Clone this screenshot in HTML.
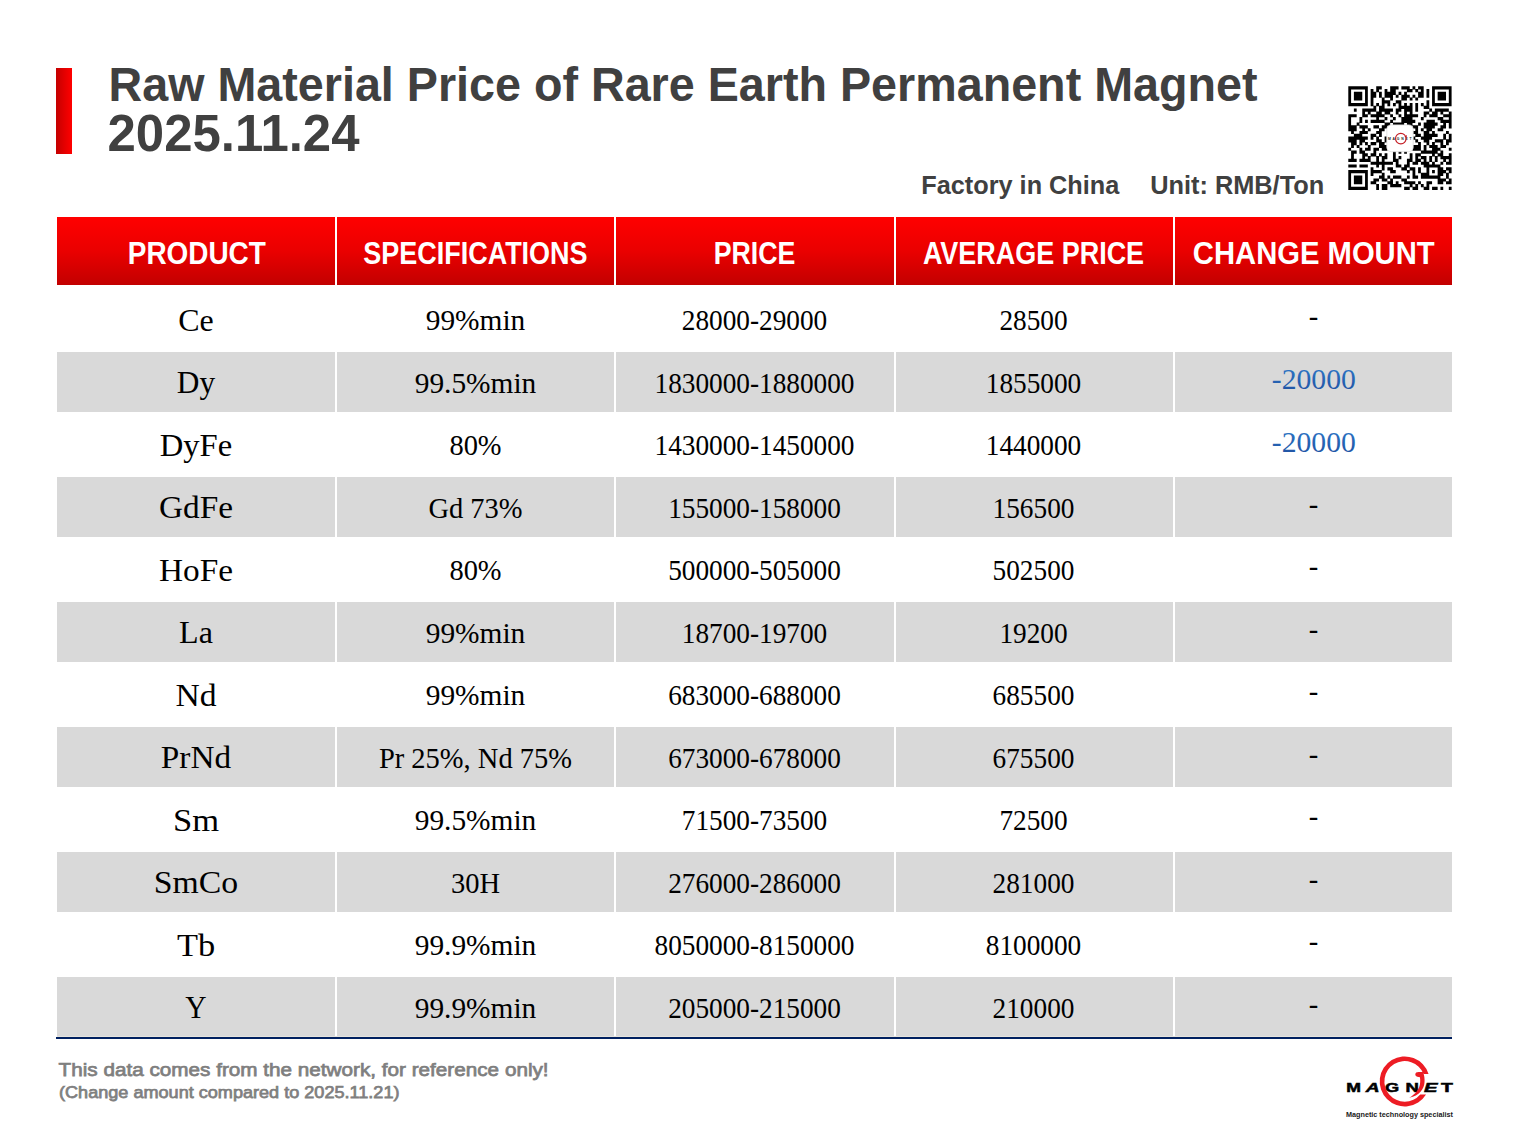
<!DOCTYPE html>
<html><head><meta charset="utf-8"><title>Raw Material Price of Rare Earth Permanent Magnet 2025.11.24</title>
<style>
html,body{margin:0;padding:0;background:#fff;}
body{width:1520px;height:1141px;overflow:hidden;position:relative;}
svg{position:absolute;left:0;top:0;display:block;}
.sans{font-family:"Liberation Sans",Arial,sans-serif;}
.serif{font-family:"Liberation Serif","Times New Roman",serif;}
</style></head><body>
<svg width="1520" height="1141" viewBox="0 0 1520 1141">
<defs>
<linearGradient id="hdr" x1="0" y1="0" x2="0" y2="1"><stop offset="0" stop-color="#FF0000"/><stop offset="0.5" stop-color="#EA0000"/><stop offset="1" stop-color="#C20000"/></linearGradient>
<linearGradient id="bar" x1="0" y1="0" x2="1" y2="0"><stop offset="0" stop-color="#C40000"/><stop offset="0.3" stop-color="#D60000"/><stop offset="1" stop-color="#FF0000"/></linearGradient>
<linearGradient id="blu" x1="0" y1="0" x2="0" y2="1"><stop offset="0" stop-color="#2F7BCB"/><stop offset="1" stop-color="#1F4F9F"/></linearGradient>
</defs>
<rect x="0" y="0" width="1520" height="1141" fill="#fff"/>
<rect x="56" y="68" width="16" height="86" fill="url(#bar)"/>
<text class="sans" x="108.5" y="101.4" font-size="49" font-weight="700" fill="#404040" textLength="1149" lengthAdjust="spacingAndGlyphs">Raw Material Price of Rare Earth Permanent Magnet</text>
<text class="sans" x="107.5" y="151.3" font-size="52" font-weight="700" fill="#404040" textLength="252" lengthAdjust="spacingAndGlyphs">2025.11.24</text>
<text class="sans" x="921.3" y="193.9" font-size="25" font-weight="700" fill="#404040" textLength="198" lengthAdjust="spacingAndGlyphs">Factory in China</text>
<text class="sans" x="1150.2" y="193.7" font-size="25" font-weight="700" fill="#404040" textLength="174" lengthAdjust="spacingAndGlyphs">Unit: RMB/Ton</text>

<rect x="57" y="217" width="278" height="68" fill="url(#hdr)"/>
<rect x="337" y="217" width="277" height="68" fill="url(#hdr)"/>
<rect x="616" y="217" width="278" height="68" fill="url(#hdr)"/>
<rect x="896" y="217" width="277" height="68" fill="url(#hdr)"/>
<rect x="1175" y="217" width="277" height="68" fill="url(#hdr)"/>
<text class="sans" x="196.8" y="263.5" font-size="31" font-weight="700" fill="#fff" text-anchor="middle" textLength="138.1" lengthAdjust="spacingAndGlyphs">PRODUCT</text>
<text class="sans" x="475.4" y="263.5" font-size="31" font-weight="700" fill="#fff" text-anchor="middle" textLength="224.3" lengthAdjust="spacingAndGlyphs">SPECIFICATIONS</text>
<text class="sans" x="754.5" y="263.5" font-size="31" font-weight="700" fill="#fff" text-anchor="middle" textLength="81.7" lengthAdjust="spacingAndGlyphs">PRICE</text>
<text class="sans" x="1033.5" y="263.5" font-size="31" font-weight="700" fill="#fff" text-anchor="middle" textLength="221.2" lengthAdjust="spacingAndGlyphs">AVERAGE PRICE</text>
<text class="sans" x="1313.75" y="263.5" font-size="31" font-weight="700" fill="#fff" text-anchor="middle" textLength="241.8" lengthAdjust="spacingAndGlyphs">CHANGE MOUNT</text>
<rect x="57" y="352" width="278" height="60" fill="#D9D9D9"/>
<rect x="337" y="352" width="277" height="60" fill="#D9D9D9"/>
<rect x="616" y="352" width="278" height="60" fill="#D9D9D9"/>
<rect x="896" y="352" width="277" height="60" fill="#D9D9D9"/>
<rect x="1175" y="352" width="277" height="60" fill="#D9D9D9"/>
<rect x="57" y="477" width="278" height="60" fill="#D9D9D9"/>
<rect x="337" y="477" width="277" height="60" fill="#D9D9D9"/>
<rect x="616" y="477" width="278" height="60" fill="#D9D9D9"/>
<rect x="896" y="477" width="277" height="60" fill="#D9D9D9"/>
<rect x="1175" y="477" width="277" height="60" fill="#D9D9D9"/>
<rect x="57" y="602" width="278" height="60" fill="#D9D9D9"/>
<rect x="337" y="602" width="277" height="60" fill="#D9D9D9"/>
<rect x="616" y="602" width="278" height="60" fill="#D9D9D9"/>
<rect x="896" y="602" width="277" height="60" fill="#D9D9D9"/>
<rect x="1175" y="602" width="277" height="60" fill="#D9D9D9"/>
<rect x="57" y="727" width="278" height="60" fill="#D9D9D9"/>
<rect x="337" y="727" width="277" height="60" fill="#D9D9D9"/>
<rect x="616" y="727" width="278" height="60" fill="#D9D9D9"/>
<rect x="896" y="727" width="277" height="60" fill="#D9D9D9"/>
<rect x="1175" y="727" width="277" height="60" fill="#D9D9D9"/>
<rect x="57" y="852" width="278" height="60" fill="#D9D9D9"/>
<rect x="337" y="852" width="277" height="60" fill="#D9D9D9"/>
<rect x="616" y="852" width="278" height="60" fill="#D9D9D9"/>
<rect x="896" y="852" width="277" height="60" fill="#D9D9D9"/>
<rect x="1175" y="852" width="277" height="60" fill="#D9D9D9"/>
<rect x="57" y="977" width="278" height="59" fill="#D9D9D9"/>
<rect x="337" y="977" width="277" height="59" fill="#D9D9D9"/>
<rect x="616" y="977" width="278" height="59" fill="#D9D9D9"/>
<rect x="896" y="977" width="277" height="59" fill="#D9D9D9"/>
<rect x="1175" y="977" width="277" height="59" fill="#D9D9D9"/>
<text class="serif" x="196" y="330.9" font-size="32" fill="#000" text-anchor="middle" textLength="35.5" lengthAdjust="spacingAndGlyphs">Ce</text>
<text class="serif" x="475.5" y="330.2" font-size="28.5" fill="#000" text-anchor="middle" textLength="99.5" lengthAdjust="spacingAndGlyphs">99%min</text>
<text class="serif" x="754.5" y="330.2" font-size="28.5" fill="#000" text-anchor="middle" textLength="145.5" lengthAdjust="spacingAndGlyphs">28000-29000</text>
<text class="serif" x="1033.5" y="330.2" font-size="28.5" fill="#000" text-anchor="middle" textLength="68.2" lengthAdjust="spacingAndGlyphs">28500</text>
<text class="serif" x="1313.5" y="326.3" font-size="28.5" fill="#000" text-anchor="middle">-</text>
<text class="serif" x="196" y="393.4" font-size="32" fill="#000" text-anchor="middle" textLength="38.3" lengthAdjust="spacingAndGlyphs">Dy</text>
<text class="serif" x="475.5" y="392.7" font-size="28.5" fill="#000" text-anchor="middle" textLength="121.5" lengthAdjust="spacingAndGlyphs">99.5%min</text>
<text class="serif" x="754.5" y="392.7" font-size="28.5" fill="#000" text-anchor="middle" textLength="200.0" lengthAdjust="spacingAndGlyphs">1830000-1880000</text>
<text class="serif" x="1033.5" y="392.7" font-size="28.5" fill="#000" text-anchor="middle" textLength="95.5" lengthAdjust="spacingAndGlyphs">1855000</text>
<text class="serif" x="1313.8" y="389.1" font-size="29" fill="url(#blu)" text-anchor="middle" textLength="84" lengthAdjust="spacingAndGlyphs">-20000</text>
<text class="serif" x="196" y="455.9" font-size="32" fill="#000" text-anchor="middle" textLength="72.5" lengthAdjust="spacingAndGlyphs">DyFe</text>
<text class="serif" x="475.5" y="455.2" font-size="28.5" fill="#000" text-anchor="middle" textLength="52.2" lengthAdjust="spacingAndGlyphs">80%</text>
<text class="serif" x="754.5" y="455.2" font-size="28.5" fill="#000" text-anchor="middle" textLength="200.0" lengthAdjust="spacingAndGlyphs">1430000-1450000</text>
<text class="serif" x="1033.5" y="455.2" font-size="28.5" fill="#000" text-anchor="middle" textLength="95.5" lengthAdjust="spacingAndGlyphs">1440000</text>
<text class="serif" x="1313.8" y="451.6" font-size="29" fill="url(#blu)" text-anchor="middle" textLength="84" lengthAdjust="spacingAndGlyphs">-20000</text>
<text class="serif" x="196" y="518.4" font-size="32" fill="#000" text-anchor="middle" textLength="74.0" lengthAdjust="spacingAndGlyphs">GdFe</text>
<text class="serif" x="475.5" y="517.7" font-size="28.5" fill="#000" text-anchor="middle" textLength="94.2" lengthAdjust="spacingAndGlyphs">Gd 73%</text>
<text class="serif" x="754.5" y="517.7" font-size="28.5" fill="#000" text-anchor="middle" textLength="172.7" lengthAdjust="spacingAndGlyphs">155000-158000</text>
<text class="serif" x="1033.5" y="517.7" font-size="28.5" fill="#000" text-anchor="middle" textLength="81.8" lengthAdjust="spacingAndGlyphs">156500</text>
<text class="serif" x="1313.5" y="513.8" font-size="28.5" fill="#000" text-anchor="middle">-</text>
<text class="serif" x="196" y="580.9" font-size="32" fill="#000" text-anchor="middle" textLength="74.0" lengthAdjust="spacingAndGlyphs">HoFe</text>
<text class="serif" x="475.5" y="580.2" font-size="28.5" fill="#000" text-anchor="middle" textLength="52.2" lengthAdjust="spacingAndGlyphs">80%</text>
<text class="serif" x="754.5" y="580.2" font-size="28.5" fill="#000" text-anchor="middle" textLength="172.7" lengthAdjust="spacingAndGlyphs">500000-505000</text>
<text class="serif" x="1033.5" y="580.2" font-size="28.5" fill="#000" text-anchor="middle" textLength="81.8" lengthAdjust="spacingAndGlyphs">502500</text>
<text class="serif" x="1313.5" y="576.3" font-size="28.5" fill="#000" text-anchor="middle">-</text>
<text class="serif" x="196" y="643.4" font-size="32" fill="#000" text-anchor="middle" textLength="33.8" lengthAdjust="spacingAndGlyphs">La</text>
<text class="serif" x="475.5" y="642.7" font-size="28.5" fill="#000" text-anchor="middle" textLength="99.5" lengthAdjust="spacingAndGlyphs">99%min</text>
<text class="serif" x="754.5" y="642.7" font-size="28.5" fill="#000" text-anchor="middle" textLength="145.5" lengthAdjust="spacingAndGlyphs">18700-19700</text>
<text class="serif" x="1033.5" y="642.7" font-size="28.5" fill="#000" text-anchor="middle" textLength="68.2" lengthAdjust="spacingAndGlyphs">19200</text>
<text class="serif" x="1313.5" y="638.8" font-size="28.5" fill="#000" text-anchor="middle">-</text>
<text class="serif" x="196" y="705.9" font-size="32" fill="#000" text-anchor="middle" textLength="41.1" lengthAdjust="spacingAndGlyphs">Nd</text>
<text class="serif" x="475.5" y="705.2" font-size="28.5" fill="#000" text-anchor="middle" textLength="99.5" lengthAdjust="spacingAndGlyphs">99%min</text>
<text class="serif" x="754.5" y="705.2" font-size="28.5" fill="#000" text-anchor="middle" textLength="172.7" lengthAdjust="spacingAndGlyphs">683000-688000</text>
<text class="serif" x="1033.5" y="705.2" font-size="28.5" fill="#000" text-anchor="middle" textLength="81.8" lengthAdjust="spacingAndGlyphs">685500</text>
<text class="serif" x="1313.5" y="701.3" font-size="28.5" fill="#000" text-anchor="middle">-</text>
<text class="serif" x="196" y="768.4" font-size="32" fill="#000" text-anchor="middle" textLength="70.3" lengthAdjust="spacingAndGlyphs">PrNd</text>
<text class="serif" x="475.5" y="767.7" font-size="28.5" fill="#000" text-anchor="middle" textLength="193.2" lengthAdjust="spacingAndGlyphs">Pr 25%, Nd 75%</text>
<text class="serif" x="754.5" y="767.7" font-size="28.5" fill="#000" text-anchor="middle" textLength="172.7" lengthAdjust="spacingAndGlyphs">673000-678000</text>
<text class="serif" x="1033.5" y="767.7" font-size="28.5" fill="#000" text-anchor="middle" textLength="81.8" lengthAdjust="spacingAndGlyphs">675500</text>
<text class="serif" x="1313.5" y="763.8" font-size="28.5" fill="#000" text-anchor="middle">-</text>
<text class="serif" x="196" y="830.9" font-size="32" fill="#000" text-anchor="middle" textLength="46.1" lengthAdjust="spacingAndGlyphs">Sm</text>
<text class="serif" x="475.5" y="830.2" font-size="28.5" fill="#000" text-anchor="middle" textLength="121.5" lengthAdjust="spacingAndGlyphs">99.5%min</text>
<text class="serif" x="754.5" y="830.2" font-size="28.5" fill="#000" text-anchor="middle" textLength="145.5" lengthAdjust="spacingAndGlyphs">71500-73500</text>
<text class="serif" x="1033.5" y="830.2" font-size="28.5" fill="#000" text-anchor="middle" textLength="68.2" lengthAdjust="spacingAndGlyphs">72500</text>
<text class="serif" x="1313.5" y="826.3" font-size="28.5" fill="#000" text-anchor="middle">-</text>
<text class="serif" x="196" y="893.4" font-size="32" fill="#000" text-anchor="middle" textLength="84.4" lengthAdjust="spacingAndGlyphs">SmCo</text>
<text class="serif" x="475.5" y="892.7" font-size="28.5" fill="#000" text-anchor="middle" textLength="49.1" lengthAdjust="spacingAndGlyphs">30H</text>
<text class="serif" x="754.5" y="892.7" font-size="28.5" fill="#000" text-anchor="middle" textLength="172.7" lengthAdjust="spacingAndGlyphs">276000-286000</text>
<text class="serif" x="1033.5" y="892.7" font-size="28.5" fill="#000" text-anchor="middle" textLength="81.8" lengthAdjust="spacingAndGlyphs">281000</text>
<text class="serif" x="1313.5" y="888.8" font-size="28.5" fill="#000" text-anchor="middle">-</text>
<text class="serif" x="196" y="955.9" font-size="32" fill="#000" text-anchor="middle" textLength="38.2" lengthAdjust="spacingAndGlyphs">Tb</text>
<text class="serif" x="475.5" y="955.2" font-size="28.5" fill="#000" text-anchor="middle" textLength="121.5" lengthAdjust="spacingAndGlyphs">99.9%min</text>
<text class="serif" x="754.5" y="955.2" font-size="28.5" fill="#000" text-anchor="middle" textLength="200.0" lengthAdjust="spacingAndGlyphs">8050000-8150000</text>
<text class="serif" x="1033.5" y="955.2" font-size="28.5" fill="#000" text-anchor="middle" textLength="95.5" lengthAdjust="spacingAndGlyphs">8100000</text>
<text class="serif" x="1313.5" y="951.3" font-size="28.5" fill="#000" text-anchor="middle">-</text>
<text class="serif" x="196" y="1018.4" font-size="32" fill="#000" text-anchor="middle" textLength="21.3" lengthAdjust="spacingAndGlyphs">Y</text>
<text class="serif" x="475.5" y="1017.7" font-size="28.5" fill="#000" text-anchor="middle" textLength="121.5" lengthAdjust="spacingAndGlyphs">99.9%min</text>
<text class="serif" x="754.5" y="1017.7" font-size="28.5" fill="#000" text-anchor="middle" textLength="172.7" lengthAdjust="spacingAndGlyphs">205000-215000</text>
<text class="serif" x="1033.5" y="1017.7" font-size="28.5" fill="#000" text-anchor="middle" textLength="81.8" lengthAdjust="spacingAndGlyphs">210000</text>
<text class="serif" x="1313.5" y="1013.8" font-size="28.5" fill="#000" text-anchor="middle">-</text>
<rect x="57" y="1036" width="1395" height="1" fill="#E6E4DE"/>
<rect x="56" y="1037" width="1396" height="2" fill="#002060"/>
<text class="sans" x="58.6" y="1076" font-size="19" font-weight="400" fill="#7F7F7F" stroke="#7F7F7F" stroke-width="0.75" textLength="490" lengthAdjust="spacingAndGlyphs">This data comes from the network, for reference only!</text>
<text class="sans" x="59" y="1098.3" font-size="17" font-weight="400" fill="#7F7F7F" stroke="#7F7F7F" stroke-width="0.75" textLength="340.5" lengthAdjust="spacingAndGlyphs">(Change amount compared to 2025.11.21)</text>
<g id="logo">
<text class="sans" x="1346.2" y="1091.8" font-size="12.7" font-weight="700" fill="#000" stroke="#000" stroke-width="0.5" textLength="14.7" lengthAdjust="spacingAndGlyphs">M</text>
<text class="sans" x="1365.7" y="1091.8" font-size="12.7" font-weight="700" fill="#000" stroke="#000" stroke-width="0.5" textLength="13.8" lengthAdjust="spacingAndGlyphs" font-style="italic">A</text>
<text class="sans" x="1385.0" y="1091.8" font-size="12.7" font-weight="700" fill="#000" stroke="#000" stroke-width="0.5" textLength="14.2" lengthAdjust="spacingAndGlyphs">G</text>
<text class="sans" x="1405.5" y="1091.8" font-size="12.7" font-weight="700" fill="#000" stroke="#000" stroke-width="0.5" textLength="13.4" lengthAdjust="spacingAndGlyphs">N</text>
<text class="sans" x="1424.0" y="1091.8" font-size="12.7" font-weight="700" fill="#000" stroke="#000" stroke-width="0.5" textLength="13.5" lengthAdjust="spacingAndGlyphs" font-style="italic">E</text>
<text class="sans" x="1441.0" y="1091.8" font-size="12.7" font-weight="700" fill="#000" stroke="#000" stroke-width="0.5" textLength="11.9" lengthAdjust="spacingAndGlyphs">T</text>
<path d="M1428.55 1073.9 A25.0 25.0 0 1 0 1426.02 1094.45 L1420.25 1094.45 A20.3 20.3 0 1 1 1423.56 1073.9 Z" fill="#ED1C24"/>
<path d="M1415.3 1074.6 C1415.3 1072.9 1416.6 1072.1 1418.6 1072.1 L1422.8 1072.1 C1424.4 1075 1424.8 1079 1424.5 1082.5 C1424.1 1089 1419.5 1095.6 1409.2 1097.8 C1415.2 1094.2 1419.8 1089.5 1420.2 1082 C1420.3 1079.5 1420.1 1077.8 1419.6 1077 C1417.3 1077.3 1415.3 1076.5 1415.3 1074.6 Z" fill="#ED1C24"/>
<text class="sans" x="1346" y="1117.4" font-size="7.3" font-weight="700" fill="#1A1A1A" textLength="106.9" lengthAdjust="spacingAndGlyphs">Magnetic technology specialist</text>
</g>
<g id="qr"><path d="M1348.30 86.25h19.54v3.19h-19.54zM1376.22 86.25h5.58v3.19h-5.58zM1390.18 86.25h8.38v3.19h-8.38zM1401.35 86.25h8.38v3.19h-8.38zM1412.52 86.25h2.79v3.19h-2.79zM1418.10 86.25h5.58v3.19h-5.58zM1432.06 86.25h19.54v3.19h-19.54zM1348.30 89.04h2.79v3.19h-2.79zM1365.05 89.04h2.79v3.19h-2.79zM1370.64 89.04h2.79v3.19h-2.79zM1376.22 89.04h2.79v3.19h-2.79zM1384.60 89.04h2.79v3.19h-2.79zM1390.18 89.04h5.58v3.19h-5.58zM1406.93 89.04h5.58v3.19h-5.58zM1415.31 89.04h2.79v3.19h-2.79zM1420.89 89.04h2.79v3.19h-2.79zM1426.48 89.04h2.79v3.19h-2.79zM1432.06 89.04h2.79v3.19h-2.79zM1448.81 89.04h2.79v3.19h-2.79zM1348.30 91.83h2.79v3.19h-2.79zM1353.88 91.83h8.38v3.19h-8.38zM1365.05 91.83h2.79v3.19h-2.79zM1370.64 91.83h5.58v3.19h-5.58zM1379.01 91.83h2.79v3.19h-2.79zM1384.60 91.83h11.17v3.19h-11.17zM1398.56 91.83h2.79v3.19h-2.79zM1404.14 91.83h2.79v3.19h-2.79zM1418.10 91.83h5.58v3.19h-5.58zM1426.48 91.83h2.79v3.19h-2.79zM1432.06 91.83h2.79v3.19h-2.79zM1437.64 91.83h8.38v3.19h-8.38zM1448.81 91.83h2.79v3.19h-2.79zM1348.30 94.63h2.79v3.19h-2.79zM1353.88 94.63h8.38v3.19h-8.38zM1365.05 94.63h2.79v3.19h-2.79zM1370.64 94.63h5.58v3.19h-5.58zM1379.01 94.63h2.79v3.19h-2.79zM1384.60 94.63h8.38v3.19h-8.38zM1395.76 94.63h2.79v3.19h-2.79zM1401.35 94.63h8.38v3.19h-8.38zM1412.52 94.63h2.79v3.19h-2.79zM1418.10 94.63h5.58v3.19h-5.58zM1426.48 94.63h2.79v3.19h-2.79zM1432.06 94.63h2.79v3.19h-2.79zM1437.64 94.63h8.38v3.19h-8.38zM1448.81 94.63h2.79v3.19h-2.79zM1348.30 97.42h2.79v3.19h-2.79zM1353.88 97.42h8.38v3.19h-8.38zM1365.05 97.42h2.79v3.19h-2.79zM1370.64 97.42h2.79v3.19h-2.79zM1381.80 97.42h2.79v3.19h-2.79zM1390.18 97.42h2.79v3.19h-2.79zM1401.35 97.42h5.58v3.19h-5.58zM1409.72 97.42h2.79v3.19h-2.79zM1415.31 97.42h2.79v3.19h-2.79zM1432.06 97.42h2.79v3.19h-2.79zM1437.64 97.42h8.38v3.19h-8.38zM1448.81 97.42h2.79v3.19h-2.79zM1348.30 100.21h2.79v3.19h-2.79zM1365.05 100.21h2.79v3.19h-2.79zM1370.64 100.21h2.79v3.19h-2.79zM1381.80 100.21h8.38v3.19h-8.38zM1395.76 100.21h5.58v3.19h-5.58zM1426.48 100.21h2.79v3.19h-2.79zM1432.06 100.21h2.79v3.19h-2.79zM1448.81 100.21h2.79v3.19h-2.79zM1348.30 103.00h19.54v3.19h-19.54zM1370.64 103.00h2.79v3.19h-2.79zM1376.22 103.00h2.79v3.19h-2.79zM1381.80 103.00h2.79v3.19h-2.79zM1387.39 103.00h2.79v3.19h-2.79zM1392.97 103.00h2.79v3.19h-2.79zM1398.56 103.00h2.79v3.19h-2.79zM1404.14 103.00h2.79v3.19h-2.79zM1409.72 103.00h2.79v3.19h-2.79zM1415.31 103.00h2.79v3.19h-2.79zM1420.89 103.00h2.79v3.19h-2.79zM1426.48 103.00h2.79v3.19h-2.79zM1432.06 103.00h19.54v3.19h-19.54zM1373.43 105.79h2.79v3.19h-2.79zM1379.01 105.79h5.58v3.19h-5.58zM1398.56 105.79h13.96v3.19h-13.96zM1415.31 105.79h2.79v3.19h-2.79zM1423.68 105.79h5.58v3.19h-5.58zM1353.88 108.59h2.79v3.19h-2.79zM1362.26 108.59h13.96v3.19h-13.96zM1379.01 108.59h13.96v3.19h-13.96zM1395.76 108.59h5.58v3.19h-5.58zM1404.14 108.59h8.38v3.19h-8.38zM1415.31 108.59h2.79v3.19h-2.79zM1429.27 108.59h2.79v3.19h-2.79zM1434.85 108.59h13.96v3.19h-13.96zM1362.26 111.38h2.79v3.19h-2.79zM1367.84 111.38h2.79v3.19h-2.79zM1376.22 111.38h5.58v3.19h-5.58zM1384.60 111.38h5.58v3.19h-5.58zM1395.76 111.38h2.79v3.19h-2.79zM1404.14 111.38h2.79v3.19h-2.79zM1409.72 111.38h2.79v3.19h-2.79zM1423.68 111.38h5.58v3.19h-5.58zM1432.06 111.38h5.58v3.19h-5.58zM1440.44 111.38h2.79v3.19h-2.79zM1448.81 111.38h2.79v3.19h-2.79zM1348.30 114.17h8.38v3.19h-8.38zM1362.26 114.17h5.58v3.19h-5.58zM1370.64 114.17h13.96v3.19h-13.96zM1390.18 114.17h2.79v3.19h-2.79zM1398.56 114.17h2.79v3.19h-2.79zM1404.14 114.17h13.96v3.19h-13.96zM1423.68 114.17h2.79v3.19h-2.79zM1429.27 114.17h8.38v3.19h-8.38zM1443.23 114.17h8.38v3.19h-8.38zM1348.30 116.96h2.79v3.19h-2.79zM1359.47 116.96h2.79v3.19h-2.79zM1376.22 116.96h2.79v3.19h-2.79zM1384.60 116.96h2.79v3.19h-2.79zM1392.97 116.96h2.79v3.19h-2.79zM1401.35 116.96h11.17v3.19h-11.17zM1420.89 116.96h2.79v3.19h-2.79zM1437.64 116.96h5.58v3.19h-5.58zM1448.81 116.96h2.79v3.19h-2.79zM1348.30 119.75h2.79v3.19h-2.79zM1359.47 119.75h2.79v3.19h-2.79zM1365.05 119.75h2.79v3.19h-2.79zM1370.64 119.75h13.96v3.19h-13.96zM1390.18 119.75h2.79v3.19h-2.79zM1401.35 119.75h13.96v3.19h-13.96zM1426.48 119.75h8.38v3.19h-8.38zM1440.44 119.75h11.17v3.19h-11.17zM1348.30 122.55h2.79v3.19h-2.79zM1356.68 122.55h2.79v3.19h-2.79zM1384.60 122.55h5.58v3.19h-5.58zM1392.97 122.55h11.17v3.19h-11.17zM1406.93 122.55h5.58v3.19h-5.58zM1418.10 122.55h2.79v3.19h-2.79zM1423.68 122.55h13.96v3.19h-13.96zM1443.23 122.55h2.79v3.19h-2.79zM1448.81 122.55h2.79v3.19h-2.79zM1348.30 125.34h8.38v3.19h-8.38zM1359.47 125.34h8.38v3.19h-8.38zM1373.43 125.34h5.58v3.19h-5.58zM1381.80 125.34h5.58v3.19h-5.58zM1412.52 125.34h5.58v3.19h-5.58zM1423.68 125.34h11.17v3.19h-11.17zM1440.44 125.34h5.58v3.19h-5.58zM1448.81 125.34h2.79v3.19h-2.79zM1348.30 128.13h8.38v3.19h-8.38zM1362.26 128.13h2.79v3.19h-2.79zM1367.84 128.13h2.79v3.19h-2.79zM1379.01 128.13h5.58v3.19h-5.58zM1415.31 128.13h2.79v3.19h-2.79zM1420.89 128.13h2.79v3.19h-2.79zM1426.48 128.13h5.58v3.19h-5.58zM1437.64 128.13h5.58v3.19h-5.58zM1351.09 130.92h2.79v3.19h-2.79zM1359.47 130.92h8.38v3.19h-8.38zM1376.22 130.92h5.58v3.19h-5.58zM1412.52 130.92h5.58v3.19h-5.58zM1423.68 130.92h5.58v3.19h-5.58zM1432.06 130.92h2.79v3.19h-2.79zM1446.02 130.92h2.79v3.19h-2.79zM1353.88 133.71h8.38v3.19h-8.38zM1370.64 133.71h5.58v3.19h-5.58zM1379.01 133.71h2.79v3.19h-2.79zM1415.31 133.71h5.58v3.19h-5.58zM1423.68 133.71h13.96v3.19h-13.96zM1443.23 133.71h2.79v3.19h-2.79zM1448.81 133.71h2.79v3.19h-2.79zM1348.30 136.51h19.54v3.19h-19.54zM1370.64 136.51h2.79v3.19h-2.79zM1376.22 136.51h2.79v3.19h-2.79zM1384.60 136.51h2.79v3.19h-2.79zM1412.52 136.51h2.79v3.19h-2.79zM1420.89 136.51h11.17v3.19h-11.17zM1443.23 136.51h2.79v3.19h-2.79zM1448.81 136.51h2.79v3.19h-2.79zM1348.30 139.30h8.38v3.19h-8.38zM1359.47 139.30h5.58v3.19h-5.58zM1376.22 139.30h5.58v3.19h-5.58zM1384.60 139.30h2.79v3.19h-2.79zM1415.31 139.30h2.79v3.19h-2.79zM1423.68 139.30h5.58v3.19h-5.58zM1434.85 139.30h8.38v3.19h-8.38zM1446.02 139.30h5.58v3.19h-5.58zM1351.09 142.09h5.58v3.19h-5.58zM1359.47 142.09h2.79v3.19h-2.79zM1365.05 142.09h2.79v3.19h-2.79zM1370.64 142.09h5.58v3.19h-5.58zM1379.01 142.09h5.58v3.19h-5.58zM1418.10 142.09h2.79v3.19h-2.79zM1426.48 142.09h2.79v3.19h-2.79zM1432.06 142.09h2.79v3.19h-2.79zM1440.44 142.09h2.79v3.19h-2.79zM1446.02 142.09h2.79v3.19h-2.79zM1351.09 144.88h2.79v3.19h-2.79zM1356.68 144.88h2.79v3.19h-2.79zM1367.84 144.88h2.79v3.19h-2.79zM1379.01 144.88h8.38v3.19h-8.38zM1412.52 144.88h8.38v3.19h-8.38zM1423.68 144.88h2.79v3.19h-2.79zM1429.27 144.88h8.38v3.19h-8.38zM1440.44 144.88h5.58v3.19h-5.58zM1348.30 147.67h2.79v3.19h-2.79zM1359.47 147.67h2.79v3.19h-2.79zM1365.05 147.67h5.58v3.19h-5.58zM1373.43 147.67h5.58v3.19h-5.58zM1381.80 147.67h5.58v3.19h-5.58zM1412.52 147.67h8.38v3.19h-8.38zM1423.68 147.67h2.79v3.19h-2.79zM1432.06 147.67h8.38v3.19h-8.38zM1448.81 147.67h2.79v3.19h-2.79zM1351.09 150.47h5.58v3.19h-5.58zM1359.47 150.47h5.58v3.19h-5.58zM1373.43 150.47h2.79v3.19h-2.79zM1392.97 150.47h2.79v3.19h-2.79zM1398.56 150.47h2.79v3.19h-2.79zM1404.14 150.47h2.79v3.19h-2.79zM1420.89 150.47h16.75v3.19h-16.75zM1440.44 150.47h2.79v3.19h-2.79zM1351.09 153.26h2.79v3.19h-2.79zM1362.26 153.26h5.58v3.19h-5.58zM1370.64 153.26h5.58v3.19h-5.58zM1379.01 153.26h2.79v3.19h-2.79zM1384.60 153.26h2.79v3.19h-2.79zM1392.97 153.26h2.79v3.19h-2.79zM1409.72 153.26h2.79v3.19h-2.79zM1415.31 153.26h5.58v3.19h-5.58zM1432.06 153.26h2.79v3.19h-2.79zM1437.64 153.26h5.58v3.19h-5.58zM1448.81 153.26h2.79v3.19h-2.79zM1351.09 156.05h2.79v3.19h-2.79zM1362.26 156.05h2.79v3.19h-2.79zM1367.84 156.05h2.79v3.19h-2.79zM1376.22 156.05h2.79v3.19h-2.79zM1381.80 156.05h5.58v3.19h-5.58zM1392.97 156.05h2.79v3.19h-2.79zM1398.56 156.05h2.79v3.19h-2.79zM1409.72 156.05h2.79v3.19h-2.79zM1415.31 156.05h2.79v3.19h-2.79zM1420.89 156.05h5.58v3.19h-5.58zM1429.27 156.05h2.79v3.19h-2.79zM1434.85 156.05h2.79v3.19h-2.79zM1440.44 156.05h11.17v3.19h-11.17zM1348.30 158.84h8.38v3.19h-8.38zM1359.47 158.84h11.17v3.19h-11.17zM1376.22 158.84h2.79v3.19h-2.79zM1381.80 158.84h2.79v3.19h-2.79zM1392.97 158.84h5.58v3.19h-5.58zM1406.93 158.84h5.58v3.19h-5.58zM1415.31 158.84h5.58v3.19h-5.58zM1423.68 158.84h2.79v3.19h-2.79zM1429.27 158.84h2.79v3.19h-2.79zM1434.85 158.84h2.79v3.19h-2.79zM1443.23 158.84h2.79v3.19h-2.79zM1448.81 158.84h2.79v3.19h-2.79zM1370.64 161.63h22.34v3.19h-22.34zM1395.76 161.63h2.79v3.19h-2.79zM1406.93 161.63h2.79v3.19h-2.79zM1412.52 161.63h5.58v3.19h-5.58zM1420.89 161.63h8.38v3.19h-8.38zM1432.06 161.63h2.79v3.19h-2.79zM1440.44 161.63h2.79v3.19h-2.79zM1446.02 161.63h5.58v3.19h-5.58zM1348.30 164.43h8.38v3.19h-8.38zM1359.47 164.43h8.38v3.19h-8.38zM1376.22 164.43h2.79v3.19h-2.79zM1381.80 164.43h2.79v3.19h-2.79zM1395.76 164.43h5.58v3.19h-5.58zM1404.14 164.43h5.58v3.19h-5.58zM1423.68 164.43h16.75v3.19h-16.75zM1370.64 167.22h2.79v3.19h-2.79zM1381.80 167.22h2.79v3.19h-2.79zM1387.39 167.22h5.58v3.19h-5.58zM1401.35 167.22h5.58v3.19h-5.58zM1409.72 167.22h5.58v3.19h-5.58zM1418.10 167.22h2.79v3.19h-2.79zM1426.48 167.22h2.79v3.19h-2.79zM1437.64 167.22h5.58v3.19h-5.58zM1446.02 167.22h5.58v3.19h-5.58zM1348.30 170.01h19.54v3.19h-19.54zM1370.64 170.01h11.17v3.19h-11.17zM1390.18 170.01h5.58v3.19h-5.58zM1406.93 170.01h2.79v3.19h-2.79zM1412.52 170.01h2.79v3.19h-2.79zM1418.10 170.01h2.79v3.19h-2.79zM1426.48 170.01h2.79v3.19h-2.79zM1432.06 170.01h2.79v3.19h-2.79zM1437.64 170.01h8.38v3.19h-8.38zM1448.81 170.01h2.79v3.19h-2.79zM1348.30 172.80h2.79v3.19h-2.79zM1365.05 172.80h2.79v3.19h-2.79zM1370.64 172.80h2.79v3.19h-2.79zM1381.80 172.80h2.79v3.19h-2.79zM1412.52 172.80h2.79v3.19h-2.79zM1420.89 172.80h8.38v3.19h-8.38zM1437.64 172.80h5.58v3.19h-5.58zM1446.02 172.80h2.79v3.19h-2.79zM1348.30 175.59h2.79v3.19h-2.79zM1353.88 175.59h8.38v3.19h-8.38zM1365.05 175.59h2.79v3.19h-2.79zM1379.01 175.59h5.58v3.19h-5.58zM1387.39 175.59h2.79v3.19h-2.79zM1392.97 175.59h8.38v3.19h-8.38zM1406.93 175.59h2.79v3.19h-2.79zM1412.52 175.59h5.58v3.19h-5.58zM1420.89 175.59h19.54v3.19h-19.54zM1446.02 175.59h2.79v3.19h-2.79zM1348.30 178.39h2.79v3.19h-2.79zM1353.88 178.39h8.38v3.19h-8.38zM1365.05 178.39h2.79v3.19h-2.79zM1373.43 178.39h5.58v3.19h-5.58zM1381.80 178.39h5.58v3.19h-5.58zM1390.18 178.39h2.79v3.19h-2.79zM1401.35 178.39h5.58v3.19h-5.58zM1437.64 178.39h8.38v3.19h-8.38zM1448.81 178.39h2.79v3.19h-2.79zM1348.30 181.18h2.79v3.19h-2.79zM1353.88 181.18h8.38v3.19h-8.38zM1365.05 181.18h2.79v3.19h-2.79zM1370.64 181.18h5.58v3.19h-5.58zM1387.39 181.18h5.58v3.19h-5.58zM1395.76 181.18h2.79v3.19h-2.79zM1404.14 181.18h11.17v3.19h-11.17zM1418.10 181.18h2.79v3.19h-2.79zM1426.48 181.18h5.58v3.19h-5.58zM1437.64 181.18h5.58v3.19h-5.58zM1446.02 181.18h5.58v3.19h-5.58zM1348.30 183.97h2.79v3.19h-2.79zM1365.05 183.97h2.79v3.19h-2.79zM1376.22 183.97h2.79v3.19h-2.79zM1381.80 183.97h5.58v3.19h-5.58zM1390.18 183.97h11.17v3.19h-11.17zM1409.72 183.97h2.79v3.19h-2.79zM1415.31 183.97h2.79v3.19h-2.79zM1420.89 183.97h2.79v3.19h-2.79zM1426.48 183.97h2.79v3.19h-2.79zM1348.30 186.76h19.54v3.19h-19.54zM1376.22 186.76h2.79v3.19h-2.79zM1381.80 186.76h5.58v3.19h-5.58zM1404.14 186.76h5.58v3.19h-5.58zM1412.52 186.76h5.58v3.19h-5.58zM1423.68 186.76h5.58v3.19h-5.58zM1432.06 186.76h5.58v3.19h-5.58zM1440.44 186.76h2.79v3.19h-2.79zM1448.81 186.76h2.79v3.19h-2.79z" fill="#000"/><rect x="1386.8" y="124.9" width="26.4" height="26.8" rx="4.5" fill="#fff" stroke="#dcdcdc" stroke-width="0.8"/><text x="1388" y="140.4" font-family="Liberation Sans, sans-serif" font-size="3.4" font-weight="700" fill="#222" textLength="23.6" lengthAdjust="spacing">MAGNET</text><circle cx="1400.8" cy="138.6" r="5.3" fill="none" stroke="#c41e26" stroke-width="1.15"/><path d="M1404.3 136.4 L1406.9 134.9 L1406.6 137.6 Z" fill="#c41e26"/></g>
</svg>
</body></html>
